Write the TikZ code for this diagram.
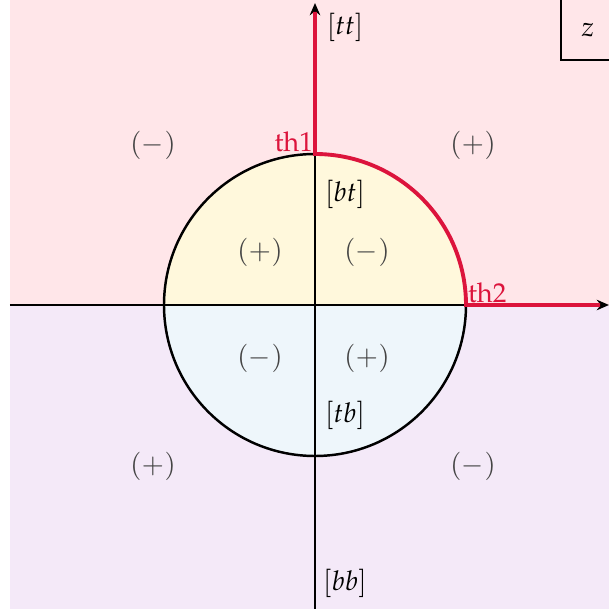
\documentclass[tikz,border=0pt]{standalone}
\usepackage[T1]{fontenc}
\usepackage{mathpazo}
\usetikzlibrary{arrows.meta}
\definecolor{pinkbg}{HTML}{FFE6E9}
\definecolor{lavbg}{HTML}{F4E9F8}
\definecolor{yelbg}{HTML}{FFF8DC}
\definecolor{bluebg}{HTML}{EEF6FB}
\definecolor{redline}{HTML}{DC143C}
\definecolor{signgray}{HTML}{444444}
\tikzset{
  axis/.style={line width=1.4pt, black, -{Stealth[length=7pt,width=6pt]}},
  redpath/.style={line width=2.2pt, redline},
  sign/.style={text=signgray, font=\fontsize{15.5}{18}\selectfont},
  tag/.style={font=\fontsize{15.5}{18}\selectfont},
  thlabel/.style={text=redline, font=\fontsize{15.5}{18}\selectfont, inner sep=1pt}
}
\begin{document}
\begin{tikzpicture}
\useasboundingbox (-6.3,-6.08) rectangle (5.88,6.1);
\fill[pinkbg] (-6.1,0) rectangle (5.88,6.1);
\fill[lavbg] (-6.1,-6.08) rectangle (5.88,0);
\fill[yelbg] (3,0) arc (0:180:3) -- cycle;
\fill[bluebg] (-3,0) arc (180:360:3) -- cycle;
% z box
\coordinate (zb1) at (4.92,6.1);
\coordinate (zb2) at (4.92,4.9);
\coordinate (zb3) at (5.88,4.9);
\draw[line width=1pt] (zb1) -- (zb2) -- (zb3);
\node[tag] (z) at (5.46,5.5) {$z$};
% axes
\coordinate (xl) at (-6.1,0);
\coordinate (xr) at (5.88,0);
\coordinate (yb) at (0,-6.08);
\coordinate (yt) at (0,6.04);
\coordinate (o) at (0,0);
\draw[axis] (xl) -- (xr);
\draw[axis] (yb) -- (yt);
\draw[line width=1.4pt] (o) circle (3.02);
% red path
\coordinate (th1pt) at (0,3.02);
\coordinate (th2pt) at (3.02,0);
\coordinate (yt2) at (0,5.86);
\coordinate (xr2) at (5.7,0);
\draw[redpath] (yt2) -- (th1pt) arc (90:0:3.02) -- (xr2);
\node[thlabel, anchor=south east] (th1) at (th1pt) {th1};
\node[thlabel, anchor=south west] (th2) at (th2pt) {th2};
% signs
\node[sign] (s1) at (-3.24,3.2) {$(-)$};
\node[sign] (s2) at (3.16,3.2) {$(+)$};
\node[sign] (s3) at (-1.1,1.06) {$(+)$};
\node[sign] (s4) at (1.04,1.06) {$(-)$};
\node[sign] (s5) at (-1.1,-1.06) {$(-)$};
\node[sign] (s6) at (1.04,-1.06) {$(+)$};
\node[sign] (s7) at (-3.24,-3.22) {$(+)$};
\node[sign] (s8) at (3.16,-3.22) {$(-)$};
% tags
\node[tag] (tt) at (0.6,5.55) {$[tt]$};
\node[tag] (bt) at (0.6,2.21) {$[bt]$};
\node[tag] (tb) at (0.6,-2.21) {$[tb]$};
\node[tag] (bb) at (0.6,-5.56) {$[bb]$};
\end{tikzpicture}
\end{document}
